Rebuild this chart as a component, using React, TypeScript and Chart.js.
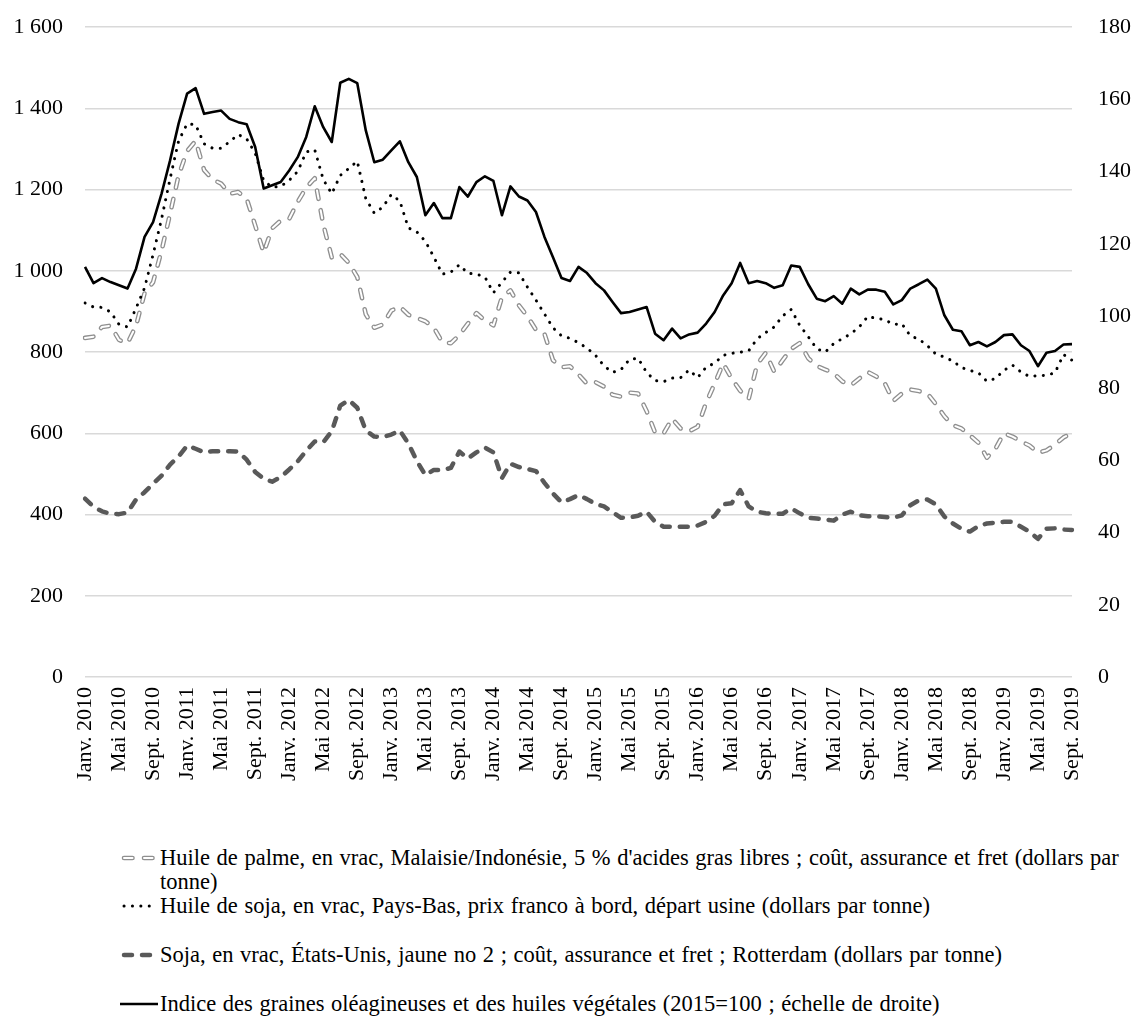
import React, { useEffect, useRef } from 'react';
import { Chart, registerables } from 'chart.js';

Chart.register(...registerables);

// ---------- Data ----------
const MONTHS_FR = ['Janv.', 'Févr.', 'Mars', 'Avr.', 'Mai', 'Juin', 'Juil.', 'Août', 'Sept.', 'Oct.', 'Nov.', 'Déc.'];
const YEARS = [2010, 2011, 2012, 2013, 2014, 2015, 2016, 2017, 2018, 2019];
const N_MONTHS = 117; // Janv. 2010 .. Sept. 2019
const TICK_EVERY = 4;

const categories: string[] = [];
for (const y of YEARS) {
  for (const m of MONTHS_FR) {
    if (categories.length < N_MONTHS) categories.push(`${m} ${y}`);
  }
}

// Huile de palme (dollars par tonne, échelle de gauche)
const palmOil = [
  835, 838, 862, 865, 830, 822, 865, 945, 972, 1050,
  1141, 1235, 1295, 1320, 1248, 1225, 1215, 1190, 1194, 1178,
  1112, 1045, 1105, 1124, 1128, 1170, 1205, 1228, 1115, 1033,
  1042, 1020, 985, 893, 860, 868, 902, 912, 892, 884,
  876, 860, 824, 822, 842, 870, 896, 878, 866, 935,
  952, 915, 888, 855, 845, 780, 763, 765, 745, 722,
  726, 715, 695, 690, 700, 698, 655, 602, 600, 636,
  612, 605, 616, 675, 722, 772, 735, 705, 685, 770,
  798, 752, 780, 808, 822, 785, 766, 757, 748, 728,
  718, 735, 751, 740, 723, 680, 698, 708, 704, 698,
  672, 642, 620, 612, 595, 577, 540, 562, 600, 592,
  580, 570, 552, 558, 572, 590, 600,
];

// Huile de soja (dollars par tonne, échelle de gauche)
const soyOil = [
  921, 911, 910, 899, 868, 862, 908, 958, 1040, 1128,
  1227, 1320, 1362, 1360, 1313, 1302, 1302, 1318, 1336, 1325,
  1290, 1222, 1206, 1208, 1223, 1245, 1293, 1298, 1225, 1190,
  1235, 1252, 1270, 1178, 1142, 1157, 1188, 1172, 1106, 1096,
  1073, 1034, 992, 997, 1015, 994, 992, 985, 946, 972,
  997, 995, 960, 928, 894, 860, 840, 834, 823, 810,
  792, 766, 750, 757, 782, 785, 750, 730, 727, 736,
  737, 756, 737, 763, 773, 792, 797, 800, 803, 833,
  848, 862, 889, 905, 866, 838, 808, 800, 821, 833,
  845, 862, 888, 883, 880, 868, 870, 840, 832, 816,
  795, 788, 778, 762, 755, 749, 728, 735, 755, 768,
  751, 740, 742, 743, 749, 794, 780,
];

// Soja (dollars par tonne, échelle de gauche)
const soybeans = [
  439, 419, 408, 402, 401, 405, 437, 455, 476, 496,
  523, 543, 570, 562, 553, 556, 556, 556, 555, 535,
  505, 488, 481, 492, 511, 531, 557, 580, 578, 605,
  668, 682, 663, 607, 592, 591, 597, 607, 575, 532,
  497, 510, 509, 515, 555, 538, 553, 565, 553, 490,
  525, 517, 512, 507, 478, 452, 430, 438, 448, 438,
  426, 420, 406, 392, 393, 397, 407, 382, 370, 370,
  370, 370, 373, 382, 397, 425, 428, 460, 420, 407,
  403, 402, 402, 415, 403, 392, 390, 388, 385, 400,
  407, 398, 396, 396, 394, 392, 398, 423, 435, 437,
  425, 395, 378, 365, 358, 372, 378, 380, 382, 382,
  370, 358, 340, 365, 366, 363, 362,
];

// Indice des graines oléagineuses et des huiles végétales (2015=100, échelle de droite)
const oilseedIndex = [
  113.6, 109.1, 110.5, 109.4, 108.5, 107.6, 113.1, 121.9, 126.0, 133.9,
  143.1, 153.3, 161.6, 163.1, 156.0, 156.5, 156.9, 154.6, 153.7, 153.1,
  146.8, 135.3, 136.2, 137.1, 140.3, 144.0, 149.6, 158.1, 152.3, 148.2,
  164.6, 165.7, 164.5, 151.4, 142.6, 143.3, 145.9, 148.4, 142.6, 138.5,
  127.9, 131.3, 127.1, 127.1, 135.7, 133.1, 137.1, 138.7, 137.4, 127.9,
  135.9, 133.1, 132.0, 128.8, 121.9, 116.3, 110.5, 109.7, 113.6, 111.9,
  109.1, 107.1, 103.9, 100.8, 101.1, 101.8, 102.5, 95.1, 93.3, 96.5,
  93.8, 94.9, 95.4, 97.9, 101.1, 105.7, 109.1, 114.7, 109.1, 109.7,
  109.1, 107.8, 108.5, 114.0, 113.6, 108.8, 104.8, 104.1, 105.5, 103.4,
  107.6, 106.0, 107.3, 107.3, 106.7, 103.2, 104.4, 107.6, 108.8, 110.1,
  107.6, 100.2, 96.2, 95.8, 91.9, 92.8, 91.6, 92.8, 94.7, 94.9,
  91.9, 90.3, 86.1, 89.8, 90.3, 92.1, 92.2,
];

const LEFT_MIN = 0;
const LEFT_MAX = 1600;
const LEFT_STEP = 200;
const RIGHT_MIN = 0;
const RIGHT_MAX = 180;
const RIGHT_STEP = 20;

const legendLabels = [
  ["Huile de palme, en vrac, Malaisie/Indonésie, 5 % d'acides gras libres ; coût, assurance et fret (dollars par", 'tonne)'],
  ['Huile de soja, en vrac, Pays-Bas, prix franco à bord, départ usine (dollars par tonne)'],
  ['Soja, en vrac, États-Unis, jaune no 2 ; coût, assurance et fret ; Rotterdam (dollars par tonne)'],
  ['Indice des graines oléagineuses et des huiles végétales (2015=100 ; échelle de droite)'],
];

// ---------- Layout / style ----------
const W = 1131;
const H_PAGE = 1023;
const H_CANVAS = 820;
const PLOT_LEFT = 85;
const PLOT_RIGHT = 1072;
const PLOT_TOP = 27;
const PLOT_BOTTOM = 677;
const X_AXIS_HEIGHT = H_CANVAS - PLOT_BOTTOM;
const FONT_FAMILY = "'Liberation Serif', 'Times New Roman', Times, serif";
const TICK_FONT_SIZE = 22;
const LEGEND_FONT_SIZE = 22.5;

const PALM_OUTER = '#8f8f8f';
const SOY_COLOR = '#595959';
const PALM_DASH = [8.5, 11.5];
const SOY_DASH = [8, 10];
const DOT_DASH = [0.1, 8.3];

function fmtLeft(v: number): string {
  if (v >= 1000) {
    const th = Math.floor(v / 1000);
    const rest = String(v % 1000).padStart(3, '0');
    return `${th} ${rest}`;
  }
  return String(v);
}

function LegendSample({ kind }: { kind: number }) {
  const x1 = 6, x2 = 38, y = 12;
  if (kind === 0) {
    return (
      <svg width={42} height={24} style={{ display: 'block' }}>
        <line x1={x1} y1={y} x2={x2} y2={y} stroke={PALM_OUTER} strokeWidth={4.6} strokeDasharray={PALM_DASH.join(' ')} strokeLinecap="round" />
        <line x1={x1} y1={y} x2={x2} y2={y} stroke="#ffffff" strokeWidth={2} strokeDasharray={PALM_DASH.join(' ')} strokeLinecap="round" />
      </svg>
    );
  }
  if (kind === 1) {
    return (
      <svg width={42} height={24} style={{ display: 'block' }}>
        <line x1={x1} y1={y} x2={x2} y2={y} stroke="#000" strokeWidth={3} strokeDasharray={DOT_DASH.join(' ')} strokeLinecap="round" />
      </svg>
    );
  }
  if (kind === 2) {
    return (
      <svg width={42} height={24} style={{ display: 'block' }}>
        <line x1={x1} y1={y} x2={x2} y2={y} stroke={SOY_COLOR} strokeWidth={4.5} strokeDasharray={SOY_DASH.join(' ')} strokeLinecap="round" />
      </svg>
    );
  }
  return (
    <svg width={42} height={24} style={{ display: 'block' }}>
      <line x1={2} y1={y} x2={40} y2={y} stroke="#000" strokeWidth={2.6} />
    </svg>
  );
}

export default function App() {
  const canvasRef = useRef<HTMLCanvasElement | null>(null);

  useEffect(() => {
    document.body.style.margin = '0';
    document.body.style.background = '#ffffff';
    const canvas = canvasRef.current;
    if (!canvas) return;
    const font = { family: FONT_FAMILY, size: TICK_FONT_SIZE };

    const lineBase = { pointRadius: 0, tension: 0, borderJoinStyle: 'round', fill: false };

    const chart = new Chart(canvas, {
      type: 'line',
      data: {
        labels: categories,
        datasets: [
          {
            ...lineBase,
            label: 'Indice',
            data: oilseedIndex,
            yAxisID: 'y1',
            borderColor: '#000000',
            borderWidth: 2.6,
          },
          {
            ...lineBase,
            label: 'Huile de soja',
            data: soyOil,
            yAxisID: 'y',
            borderColor: '#000000',
            borderWidth: 3,
            borderDash: DOT_DASH,
            borderCapStyle: 'round',
          },
          {
            ...lineBase,
            label: 'Huile de palme (intérieur)',
            data: palmOil,
            yAxisID: 'y',
            borderColor: '#ffffff',
            borderWidth: 2,
            borderDash: PALM_DASH,
            borderCapStyle: 'round',
          },
          {
            ...lineBase,
            label: 'Huile de palme',
            data: palmOil,
            yAxisID: 'y',
            borderColor: PALM_OUTER,
            borderWidth: 4.6,
            borderDash: PALM_DASH,
            borderCapStyle: 'round',
          },
          {
            ...lineBase,
            label: 'Soja',
            data: soybeans,
            yAxisID: 'y',
            borderColor: SOY_COLOR,
            borderWidth: 4.5,
            borderDash: SOY_DASH,
            borderCapStyle: 'round',
          },
        ],
      },
      options: {
        animation: false,
        responsive: false,
        maintainAspectRatio: false,
        events: [],
        layout: { padding: { top: PLOT_TOP, left: 0, right: 0, bottom: 0 } },
        plugins: {
          legend: { display: false },
          tooltip: { enabled: false },
          title: { display: false },
        },
        scales: {
          x: {
            type: 'category',
            offset: false,
            grid: { display: false, drawTicks: false },
            border: { display: false },
            ticks: {
              autoSkip: false,
              maxRotation: 90,
              minRotation: 90,
              padding: 10,
              color: '#000000',
              font,
              callback: (_v: any, i: number) => (i % TICK_EVERY === 0 ? categories[i] : ''),
            },
            afterFit: (s: any) => {
              s.height = X_AXIS_HEIGHT;
            },
          },
          y: {
            type: 'linear',
            position: 'left',
            min: LEFT_MIN,
            max: LEFT_MAX,
            grid: { color: '#d9d9d9', lineWidth: 1.5, drawTicks: false },
            border: { display: false },
            ticks: {
              stepSize: LEFT_STEP,
              padding: 22,
              color: '#000000',
              font,
              callback: (v: any) => fmtLeft(Number(v)),
            },
            afterFit: (s: any) => {
              s.width = PLOT_LEFT;
            },
          },
          y1: {
            type: 'linear',
            position: 'right',
            min: RIGHT_MIN,
            max: RIGHT_MAX,
            grid: { drawOnChartArea: false, drawTicks: false },
            border: { display: false },
            ticks: {
              stepSize: RIGHT_STEP,
              padding: 26,
              color: '#000000',
              font,
            },
            afterFit: (s: any) => {
              s.width = W - PLOT_RIGHT;
            },
          },
        },
      },
    } as any);

    // Chart.js reserves extra top space for tick labels; shift the canvas so the
    // plot area lands at PLOT_TOP..PLOT_BOTTOM on the page.
    const offset = Math.round(chart.chartArea.top - PLOT_TOP);
    if (offset > 0) {
      chart.resize(W, H_CANVAS + offset);
      canvas.style.marginTop = `${-offset}px`;
    }

    return () => {
      chart.destroy();
    };
  }, []);

  const legendTops = [846, 894, 943, 992];

  return (
    <div style={{ position: 'relative', width: W, height: H_PAGE, background: '#ffffff', overflow: 'hidden' }}>
      <canvas ref={canvasRef} width={W} height={H_CANVAS} style={{ width: W, height: H_CANVAS, display: 'block' }} />
      {legendLabels.map((lines, k) => (
        <div key={k} style={{ position: 'absolute', left: 0, top: legendTops[k], width: W }}>
          <div style={{ position: 'absolute', left: 118, top: 0 }}>
            <LegendSample kind={k} />
          </div>
          <div
            style={{
              position: 'absolute',
              left: 160,
              top: 0,
              fontFamily: FONT_FAMILY,
              fontSize: LEGEND_FONT_SIZE,
              lineHeight: '24px',
              wordSpacing: '1px',
              color: '#000',
              whiteSpace: 'nowrap',
            }}
          >
            {lines.map((t, j) => (
              <div key={j}>{t}</div>
            ))}
          </div>
        </div>
      ))}
    </div>
  );
}
